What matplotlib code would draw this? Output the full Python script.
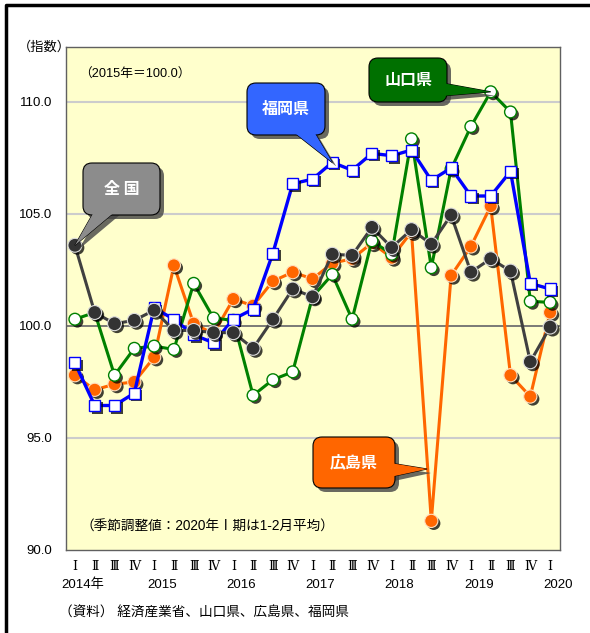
import numpy as np
import matplotlib
matplotlib.use('Agg')
import matplotlib.pyplot as plt
import matplotlib.patheffects as pe
from matplotlib.patches import FancyBboxPatch, Polygon
from matplotlib.lines import Line2D
from matplotlib.transforms import Affine2D, blended_transform_factory

plt.rcParams['font.family'] = ['Liberation Sans', 'Noto Sans CJK JP', 'DejaVu Sans']

# data: quarterly index (2015 = 100), 2014 Q1 .. 2020 Q1
quarters = ['Ⅰ', 'Ⅱ', 'Ⅲ', 'Ⅳ'] * 6 + ['Ⅰ']
years = ['2014年', '2015', '2016', '2017', '2018', '2019', '2020']
zenkoku = [103.6, 100.6, 100.1, 100.25, 100.7, 99.8, 99.8, 99.7, 99.7, 99.0, 100.3, 101.65, 101.3,
           103.2, 103.15, 104.4, 103.5, 104.3, 103.65, 104.95, 102.4, 103.0, 102.45, 98.4, 99.95]
yamaguchi = [100.3, 100.6, 97.8, 99.0, 99.1, 98.95, 101.9, 100.35, 100.25, 96.9, 97.6, 97.95, 101.3,
             102.3, 100.3, 103.8, 103.2, 108.35, 102.6, 107.0, 108.9, 110.45, 109.55, 101.1, 101.05]
hiroshima = [97.8, 97.15, 97.4, 97.5, 98.6, 102.7, 100.1, 99.65, 101.2, 100.9, 102.0, 102.4, 102.1,
             102.8, 103.0, 103.7, 103.05, 104.2, 91.3, 102.25, 103.55, 105.35, 97.8, 96.85, 100.6]
fukuoka = [98.35, 96.45, 96.45, 97.0, 100.8, 100.3, 99.6, 99.25, 100.3, 100.75, 103.25, 106.35, 106.55,
           107.3, 106.95, 107.7, 107.6, 107.85, 106.5, 107.05, 105.8, 105.8, 106.9, 101.9, 101.65]
yticks = [90, 95, 100, 105, 110]

W, H = 590, 633
fig = plt.figure(figsize=(W / 100, H / 100), dpi=100)
ax = fig.add_axes([66 / W, 1 - 550 / H, 494 / W, 503 / H])
# pixel coords of the picture, y pointing down
pix = Affine2D().scale(1 / W, -1 / H).translate(0, 1) + fig.transFigure

x = np.arange(len(zenkoku))
ax.set_facecolor('#FFFFCC')
ax.set_xlim(-0.45, 24.5)
ax.set_ylim(90, 112.45)

for v in [95, 105, 110]:
    ax.axhline(v, color='#cccccc', lw=1.5, zorder=1)
ax.axhline(100, color='#707070', lw=1.3, zorder=1)

shadow = [pe.SimplePatchShadow(offset=(1.8, -1.8), shadow_rgbFace='black', alpha=0.75), pe.Normal()]

# draw order: orange, green, blue, dark gray on top
ax.plot(x, hiroshima, color='#FF6600', lw=2.2, zorder=3)
ax.plot(x, hiroshima, ls='none', marker='o', ms=9.5, mfc='#FF6600', mec='#FFE0C0', mew=0.8,
        zorder=3.1, path_effects=shadow)
ax.plot(x, yamaguchi, color='#008000', lw=2.2, zorder=4)
ax.plot(x, yamaguchi, ls='none', marker='o', ms=8.5, mfc='white', mec='#008000', mew=1.0,
        zorder=4.1, path_effects=shadow)
ax.plot(x, fukuoka, color='#0000FF', lw=2.4, zorder=5)
ax.plot(x, fukuoka, ls='none', marker='s', ms=8, mfc='white', mec='#0000FF', mew=1.0,
        zorder=5.1, path_effects=shadow)
ax.plot(x, zenkoku, color='#404040', lw=2.2, zorder=6)
ax.plot(x, zenkoku, ls='none', marker='o', ms=10, mfc='#333333', mec='#dddddd', mew=0.8,
        zorder=6.1, path_effects=shadow)

ax.set_yticks(yticks)
ax.set_yticklabels(['%.1f' % v for v in yticks], fontsize=9.5)
ax.set_xticks([])
ax.tick_params(axis='y', length=0, pad=10)
for s in ax.spines.values():
    s.set_color('#606060')
    s.set_linewidth(1.0)

# x labels: quarter numerals and years
bt = blended_transform_factory(ax.transData, pix)
for i, q in enumerate(quarters):
    ax.text(i, 566, q, transform=bt, ha='center', va='center', fontsize=9,
            family=['DejaVu Serif', 'Noto Sans CJK JP'], clip_on=False)
for k, yr in enumerate(years):
    ax.text(k * 4 + 0.4, 585, yr, transform=bt, ha='center', va='center', fontsize=9.5, clip_on=False)

fig.text(18, 47, '（指数）', transform=pix, ha='left', va='center', fontsize=9.5)
fig.text(79, 75, '（2015年＝100.0）', transform=pix, ha='left', va='center', fontsize=9.2)
fig.text(80, 527, '（季節調整値：2020年Ⅰ期は1-2月平均）', transform=pix, ha='left', va='center', fontsize=9.8)
fig.text(59, 613, '（資料） 経済産業省、山口県、広島県、福岡県', transform=pix, ha='left', va='center', fontsize=9.8)


def callout(box, base, tip, color, label):
    x0, y0, x1, y1 = box
    sh = 4
    tri = np.array([base[0], tip, base[1]])
    fig.patches.append(Polygon(tri + sh, closed=True, transform=pix, fc='#444444', ec='none', alpha=0.8, zorder=20))
    fig.patches.append(FancyBboxPatch((x0 + sh, y0 + sh), x1 - x0, y1 - y0, boxstyle='round,pad=0,rounding_size=9',
                                      transform=pix, fc='#444444', ec='none', alpha=0.8, zorder=20))
    fig.patches.append(Polygon(tri, closed=True, transform=pix, fc=color, ec='black', lw=0.8, zorder=21))
    fig.patches.append(FancyBboxPatch((x0, y0), x1 - x0, y1 - y0, boxstyle='round,pad=0,rounding_size=9',
                                      transform=pix, fc=color, ec='black', lw=0.8, zorder=22))
    fig.patches.append(Polygon(tri, closed=True, transform=pix, fc=color, ec='none', zorder=23))
    fig.text((x0 + x1) / 2, (y0 + y1) / 2, label, transform=pix, ha='center', va='center', color='white',
             fontsize=11.5, fontweight='bold', family=['Noto Sans CJK JP'], zorder=24)


def to_pix(i, v):
    return pix.inverted().transform(ax.transData.transform((i, v)))


callout((83, 163, 160, 215), [(95, 210), (117, 210)], to_pix(0, zenkoku[0]), '#8C8C8C', '全 国')
callout((247, 83, 325, 135), [(291, 130), (313, 130)], to_pix(13, fukuoka[13]), '#3366FF', '福岡県')
callout((369, 58, 447, 102), [(442, 83), (442, 96)], to_pix(21, yamaguchi[21]), '#007000', '山口県')
callout((313, 437, 395, 488), [(390, 463), (390, 477)], (427, 469), '#FF6600', '広島県')

# outer frame: top and left edges only
fig.lines.append(Line2D([6, 6, 600], [640, 5, 5], transform=pix, color='black', lw=2.5, zorder=30))

fig.savefig('out.png', dpi=100)
